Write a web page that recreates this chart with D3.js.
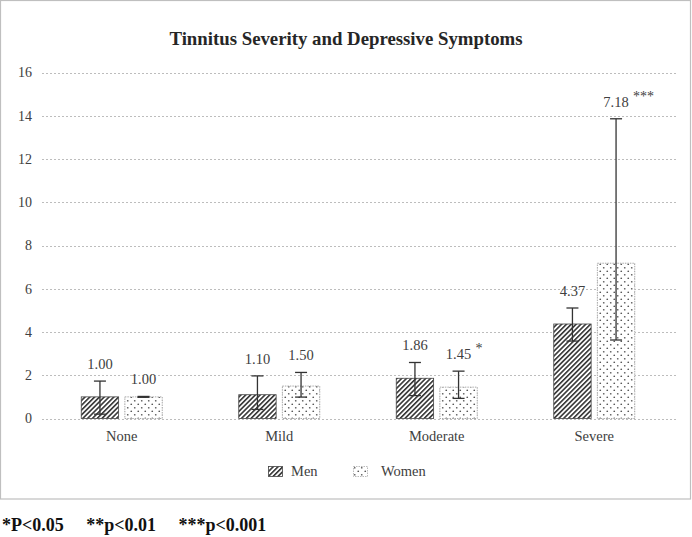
<!DOCTYPE html>
<html><head><meta charset="utf-8">
<script src="https://cdn.jsdelivr.net/npm/d3@7"></script>
<style>body{margin:0;background:#fff}svg{display:block}svg text{font-family:"Liberation Serif","Times New Roman",serif}</style>
</head><body>
<svg id="c" width="692" height="537"></svg>
<script>
const categories = ["None", "Mild", "Moderate", "Severe"];
const seriesNames = ["Men", "Women"];
const menValues = [1.00, 1.10, 1.86, 4.37];
const menLow = [0.20, 0.42, 1.06, 3.58];
const menHigh = [1.73, 1.97, 2.59, 5.11];
const womenValues = [1.00, 1.50, 1.45, 7.18];
const womenLow = [0.98, 0.99, 0.93, 3.63];
const womenHigh = [1.02, 2.13, 2.19, 13.86];
const womenSig = ["", "", "*", "***"];
const yTicks = [0, 2, 4, 6, 8, 10, 12, 14, 16];
const titleText = "Tinnitus Severity and Depressive Symptoms";
const footnote = "*P<0.05     **p<0.01     ***p<0.001";

const svg = d3.select("#c");
const serif = "Liberation Serif";
const txt = "#404040";

// patterns
const defs = svg.append("defs");
const hatch = defs.append("pattern").attr("id","hatch").attr("patternUnits","userSpaceOnUse")
  .attr("width",3.4).attr("height",3.4).attr("patternTransform","rotate(45)");
hatch.append("rect").attr("width",3.4).attr("height",3.4).attr("fill","#fff");
hatch.append("line").attr("x1",0.8).attr("y1",0).attr("x2",0.8).attr("y2",3.4).attr("stroke","#262626").attr("stroke-width",1.5);
const dots = defs.append("pattern").attr("id","dots").attr("patternUnits","userSpaceOnUse")
  .attr("width",7).attr("height",7);
dots.append("rect").attr("width",7).attr("height",7).attr("fill","#fff");
dots.append("circle").attr("cx",1.75).attr("cy",1.75).attr("r",0.85).attr("fill","#555");
dots.append("circle").attr("cx",5.25).attr("cy",5.25).attr("r",0.85).attr("fill","#555");

// chart border
svg.append("rect").attr("x",0.5).attr("y",0.5).attr("width",690).attr("height",498.5)
  .attr("fill","none").attr("stroke","#bfbfbf").attr("stroke-width",1.2);

const x = d3.scaleBand().domain(categories).range([43, 673]).paddingInner(0).paddingOuter(0);
const x1 = d3.scaleBand().domain(seriesNames).range([0, 82]).paddingInner(0.12);
const y = d3.scaleLinear().domain([0, 16]).range([418.5, 72.5]);

// gridlines
svg.append("g").selectAll("line").data(yTicks).join("line")
  .attr("x1",42).attr("x2",677).attr("y1",d=>Math.round(y(d))+0.5).attr("y2",d=>Math.round(y(d))+0.5)
  .attr("stroke","#bdbdbd").attr("stroke-dasharray","2,2").attr("stroke-width",1);

// y axis
const yAxis = d3.axisLeft(y).tickValues(yTicks).tickSize(0).tickPadding(0).tickFormat(d3.format("d"));
const yg = svg.append("g").attr("transform","translate(32,0)").call(yAxis).attr("font-family",null);
yg.select(".domain").remove();
yg.selectAll("text").style("font-family",serif).style("font-size","14px").attr("fill",txt);

// x axis
const xAxis = d3.axisBottom(x).tickSize(0).tickPadding(0);
const xg = svg.append("g").attr("transform","translate(0,430)").call(xAxis).attr("font-family",null);
xg.select(".domain").remove();
xg.selectAll("text").style("font-family",serif).style("font-size","14.5px").attr("fill",txt).attr("dy","0.75em");

const data = [];
categories.forEach((c,i)=>{
  data.push({c, s:"Men", v:menValues[i], lo:menLow[i], hi:menHigh[i], sig:""});
  data.push({c, s:"Women", v:womenValues[i], lo:womenLow[i], hi:womenHigh[i], sig:womenSig[i]});
});
const groupOff = (x.bandwidth()-82)/2;
const bx = d => x(d.c) + groupOff + x1(d.s);
const bw = x1.bandwidth();

// bars
svg.append("g").selectAll("rect").data(data).join("rect")
  .attr("x", d=>bx(d)+0.5).attr("y", d=>y(d.v))
  .attr("width", bw-1).attr("height", d=>y(0)-y(d.v))
  .attr("fill", d=>d.s==="Men"?"url(#hatch)":"url(#dots)")
  .attr("stroke", d=>d.s==="Men"?"#444":"#aaa")
  .attr("stroke-width", d=>d.s==="Men"?0.8:1)
  .attr("stroke-dasharray", d=>d.s==="Men"?null:"1.5,1");

// error bars
const eg = svg.append("g").attr("stroke","#333").attr("stroke-width",1.3);
data.forEach(d=>{
  const cx = bx(d)+bw/2;
  eg.append("line").attr("x1",cx).attr("x2",cx).attr("y1",y(d.lo)).attr("y2",y(d.hi));
  eg.append("line").attr("x1",cx-6).attr("x2",cx+6).attr("y1",y(d.hi)).attr("y2",y(d.hi));
  eg.append("line").attr("x1",cx-6).attr("x2",cx+6).attr("y1",y(d.lo)).attr("y2",y(d.lo));
});

// value labels
svg.append("g").selectAll("text").data(data).join("text")
  .attr("x", d=>bx(d)+bw/2).attr("y", d=>y(d.hi)-12)
  .attr("text-anchor","middle").style("font-family",serif).style("font-size","14.5px").attr("fill",txt)
  .text(d=>d.v.toFixed(2));
svg.append("g").selectAll("text").data(data.filter(d=>d.sig)).join("text")
  .attr("x", d=>bx(d)+bw/2+17).attr("y", d=>y(d.hi)-18)
  .style("font-family",serif).style("font-size","14px").attr("fill",txt)
  .text(d=>d.sig);

// title
svg.append("text").attr("x",346).attr("y",45).attr("text-anchor","middle")
  .style("font-family",serif).attr("font-weight","bold").style("font-size","18.8px").attr("fill","#262626")
  .text(titleText);

// legend
const lg = svg.append("g").attr("transform","translate(268,466)");
seriesNames.forEach((s,i)=>{
  const g = lg.append("g").attr("transform",`translate(${i*85},0)`);
  g.append("rect").attr("x",0.5).attr("y",0.5).attr("width",14).attr("height",10)
    .attr("fill", i===0?"url(#hatch)":"url(#dots)")
    .attr("stroke", i===0?"#444":"#aaa").attr("stroke-width",0.8)
    .attr("stroke-dasharray", i===0?null:"1.5,1");
  g.append("text").attr("x",i===0?23:28).attr("y",10).style("font-family",serif).style("font-size","14.5px").attr("fill",txt).text(s);
});

// footnote
svg.append("text").attr("x",2).attr("y",531).style("font-family",serif).attr("font-weight","bold")
  .style("font-size","18px").attr("fill","#111").style("white-space","pre").text(footnote);
</script>
</body></html>
